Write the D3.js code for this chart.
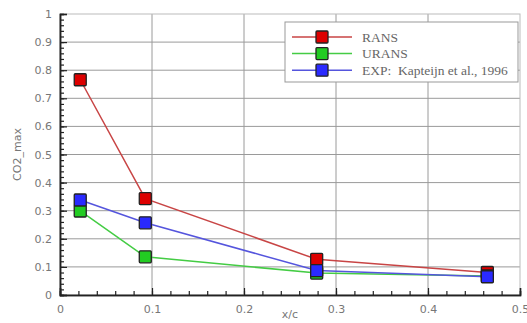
<!DOCTYPE html>
<html><head><meta charset="utf-8">
<script src="https://cdn.jsdelivr.net/npm/d3@7/dist/d3.min.js"></script>
<style>body{margin:0;background:#fff}svg{display:block}</style>
</head><body>
<script>
const xPos = [0.022, 0.0927, 0.279, 0.4645];
const rans = [0.766, 0.343, 0.127, 0.08];
const urans = [0.299, 0.136, 0.078, 0.068];
const exp = [0.338, 0.257, 0.087, 0.065];
const seriesNames = ["RANS", "URANS", "EXP:  Kapteijn et al., 1996"];
const xTicks = [0, 0.1, 0.2, 0.3, 0.4, 0.5];
const yTicks = [0, 0.1, 0.2, 0.3, 0.4, 0.5, 0.6, 0.7, 0.8, 0.9, 1];

const W = 527, H = 323;
const m = {l: 60, r: 7, t: 14, b: 28};
const svg = d3.select("body").append("svg").attr("width", W).attr("height", H);
const x = d3.scaleLinear().domain([0, 0.5]).range([m.l, W - m.r]);
const y = d3.scaleLinear().domain([0, 1]).range([H - m.b, m.t]);

const series = [
  {name: seriesNames[0], vals: rans, line: "#c84545", fill: "#dd0000"},
  {name: seriesNames[1], vals: urans, line: "#44cc44", fill: "#22cc22"},
  {name: seriesNames[2], vals: exp, line: "#5555dd", fill: "#2a2aff"}
];

// grid
const g = svg.append("g");
g.selectAll(".hg").data(yTicks.slice(1, -1)).enter().append("line")
  .attr("x1", x(0)).attr("x2", x(0.5)).attr("y1", d => y(d)).attr("y2", d => y(d))
  .attr("stroke", "#9a9a9a").attr("stroke-width", 1);
g.selectAll(".vg").data(xTicks.slice(1, -1)).enter().append("line")
  .attr("y1", y(0)).attr("y2", y(1)).attr("x1", d => x(d)).attr("x2", d => x(d))
  .attr("stroke", "#9a9a9a").attr("stroke-width", 1);
// frame
svg.append("rect").attr("x", x(0)).attr("y", y(1)).attr("width", x(0.5) - x(0)).attr("height", y(0) - y(1))
  .attr("fill", "none").attr("stroke", "#bbb").attr("stroke-width", 1);

// axes with inward ticks
const xAxis = svg.append("g").attr("transform", `translate(0,${y(0)})`)
  .call(d3.axisBottom(x).tickValues(xTicks).tickSize(-7).tickPadding(10).tickFormat(d3.format("")));
const xMinor = svg.append("g").attr("transform", `translate(0,${y(0)})`)
  .call(d3.axisBottom(x).tickValues(d3.range(0, 0.5001, 0.02)).tickSize(-4).tickFormat(""));
const yAxis = svg.append("g").attr("transform", `translate(${x(0)},0)`)
  .call(d3.axisLeft(y).tickValues(yTicks).tickSize(-7).tickPadding(8).tickFormat(d3.format("")));
const yMinor = svg.append("g").attr("transform", `translate(${x(0)},0)`)
  .call(d3.axisLeft(y).tickValues(d3.range(0, 1.0001, 0.02)).tickSize(-4).tickFormat(""));
[xAxis, xMinor, yAxis, yMinor].forEach(a => {
  a.select(".domain").attr("stroke", "#222").attr("stroke-width", 1.5);
  a.selectAll(".tick line").attr("stroke", "#222").attr("stroke-width", 1.2);
  a.selectAll("text").attr("fill", "#777").attr("font-family", "DejaVu Sans, Verdana, sans-serif").attr("font-size", 11);
});

// lines and markers
series.forEach(s => {
  const pts = xPos.map((xv, i) => [xv, s.vals[i]]);
  svg.append("path").datum(pts)
    .attr("d", d3.line().x(d => x(d[0])).y(d => y(d[1])))
    .attr("fill", "none").attr("stroke", s.line).attr("stroke-width", 1.5);
});
series.forEach(s => {
  const pts = xPos.map((xv, i) => [xv, s.vals[i]]);
  svg.selectAll(null).data(pts).enter().append("rect")
    .attr("x", d => x(d[0]) - 6).attr("y", d => y(d[1]) - 6)
    .attr("width", 12).attr("height", 12).attr("rx", 1)
    .attr("fill", s.fill).attr("stroke", "#222").attr("stroke-width", 1.3);
});

// axis titles
svg.append("text").attr("x", x(0.25)).attr("y", 318).attr("text-anchor", "middle")
  .attr("font-family", "DejaVu Sans, Verdana, sans-serif").attr("font-size", 11).attr("fill", "#777").text("x/c");
svg.append("text").attr("transform", `translate(21,${y(0.5)}) rotate(-90)`).attr("text-anchor", "middle")
  .attr("font-family", "DejaVu Sans, Verdana, sans-serif").attr("font-size", 11).attr("fill", "#777").text("CO2_max");

// legend
const lg = svg.append("g");
lg.append("rect").attr("x", 285).attr("y", 22).attr("width", 233).attr("height", 60)
  .attr("fill", "#fff").attr("stroke", "#999").attr("stroke-width", 1);
series.forEach((s, i) => {
  const yy = 37 + i * 16.6;
  lg.append("line").attr("x1", 292).attr("x2", 352).attr("y1", yy).attr("y2", yy)
    .attr("stroke", s.line).attr("stroke-width", 1.5);
  lg.append("rect").attr("x", 316).attr("y", yy - 6).attr("width", 12).attr("height", 12).attr("rx", 1)
    .attr("fill", s.fill).attr("stroke", "#222").attr("stroke-width", 1.3);
  lg.append("text").attr("x", 362).attr("y", yy + 4.5)
    .attr("font-family", "Liberation Serif, Times New Roman, serif").attr("font-size", 13.5).attr("fill", "#666")
    .style("white-space", "pre")
    .text(s.name);
});
</script>
</body></html>
